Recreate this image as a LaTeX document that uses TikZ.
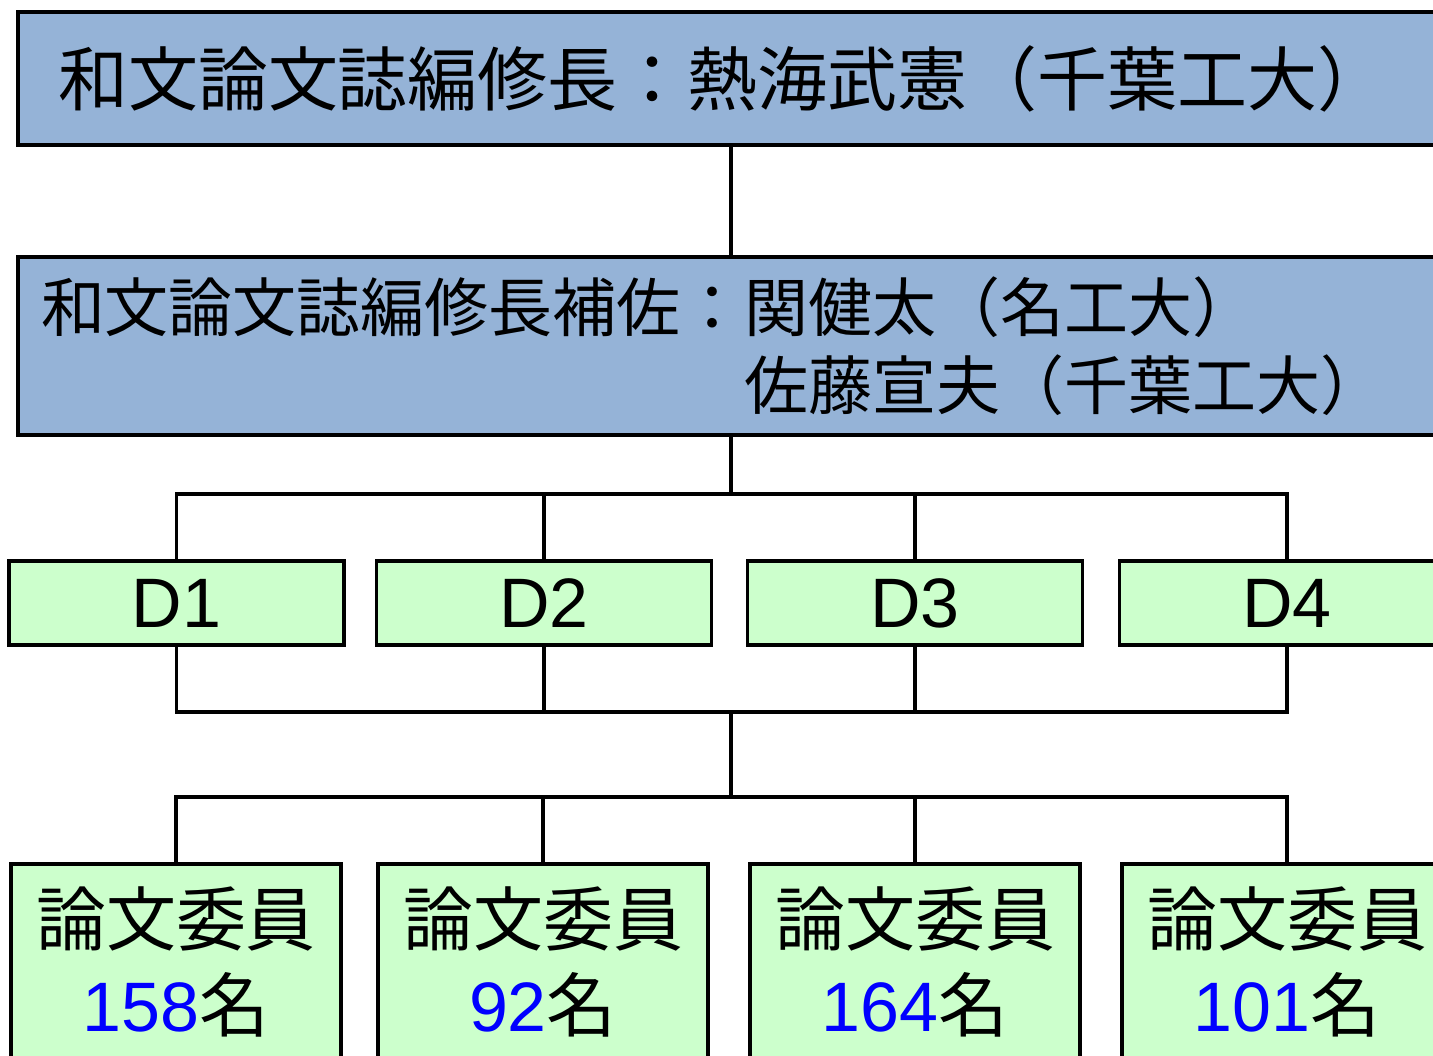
\documentclass[tikz,border=0pt]{standalone}
\usepackage{fontspec}
\setmainfont{Liberation Sans}
\newfontfamily\cjk{Noto Sans CJK JP}
\definecolor{hdblue}{HTML}{95B3D7}
\definecolor{dgreen}{HTML}{CCFFCC}
\definecolor{numblue}{HTML}{0000FF}
\begin{document}
\begin{tikzpicture}[x=1pt,y=-1pt,
  conn/.style={draw=black, line width=3.5pt},
  headbox/.style={draw=black, fill=hdblue, line width=4pt, outer sep=0pt, anchor=north west, align=left},
  dbox/.style={draw=black, fill=dgreen, line width=3.5pt, minimum width=335pt, minimum height=84pt, outer sep=0pt, inner sep=0pt, font=\fontsize{70}{80}\selectfont},
  bbox/.style={draw=black, fill=dgreen, line width=3.5pt, minimum width=330pt, minimum height=230pt, outer sep=0pt, inner sep=0pt, anchor=north},
  btext/.style={align=center, inner sep=0pt, font=\fontsize{70}{86}\selectfont}]
\useasboundingbox (0,0) rectangle (1433,1056);
\clip (0,0) rectangle (1433,1056);
\fill[white] (0,0) rectangle (1433,1056);
% spine coordinate
\coordinate (spine) at (731,0);
\coordinate (bus1) at (731,494);
\coordinate (bus2) at (731,712);
\coordinate (bus3) at (731,797);
% header boxes
\node[headbox, minimum height=133pt, text width=1380pt, inner xsep=40pt, font=\fontsize{70}{80}\selectfont\cjk] (top) at (18,12)
  {和文論文誌編修長：熱海武憲（千葉工大）};
\node[headbox, minimum height=178pt, text width=1400pt, inner xsep=23pt, font=\fontsize{64}{78}\selectfont\cjk] (sec) at (18,257)
  {和文論文誌編修長補佐：関健太（名工大）\\\phantom{和文論文誌編修長補佐：}佐藤宣夫（千葉工大）};
% D boxes
\node[dbox] (d1) at (176.5,603) {D1};
\node[dbox] (d2) at (544,603) {D2};
\node[dbox] (d3) at (915,603) {D3};
\node[dbox] (d4) at (1287,603) {D4};
% bottom boxes
\node[bbox] (b1) at (176,864) {};
\node[bbox] (b2) at (543,864) {};
\node[bbox] (b3) at (915,864) {};
\node[bbox] (b4) at (1287,864) {};
\node[btext] (t1) at (176,962) {{\cjk 論文委員}\\{\color{numblue}158}{\cjk 名}};
\node[btext] (t2) at (543,962) {{\cjk 論文委員}\\{\color{numblue}92}{\cjk 名}};
\node[btext] (t3) at (915,962) {{\cjk 論文委員}\\{\color{numblue}164}{\cjk 名}};
\node[btext] (t4) at (1287,962) {{\cjk 論文委員}\\{\color{numblue}101}{\cjk 名}};
% connectors
\draw[conn] (top.south -| spine) -- (sec.north -| spine);
\draw[conn] (sec.south -| spine) -- (bus1);
\draw[conn] (d1.north) |- (d4.north |- bus1) -- (d4.north);
\draw[conn] (d2.north) -- (d2.north |- bus1);
\draw[conn] (d3.north) -- (d3.north |- bus1);
\draw[conn] (d1.south) |- (d4.south |- bus2) -- (d4.south);
\draw[conn] (d2.south) -- (d2.south |- bus2);
\draw[conn] (d3.south) -- (d3.south |- bus2);
\draw[conn] (bus2) -- (bus3);
\draw[conn] (b1.north) |- (b4.north |- bus3) -- (b4.north);
\draw[conn] (b2.north) -- (b2.north |- bus3);
\draw[conn] (b3.north) -- (b3.north |- bus3);
\end{tikzpicture}
\end{document}
